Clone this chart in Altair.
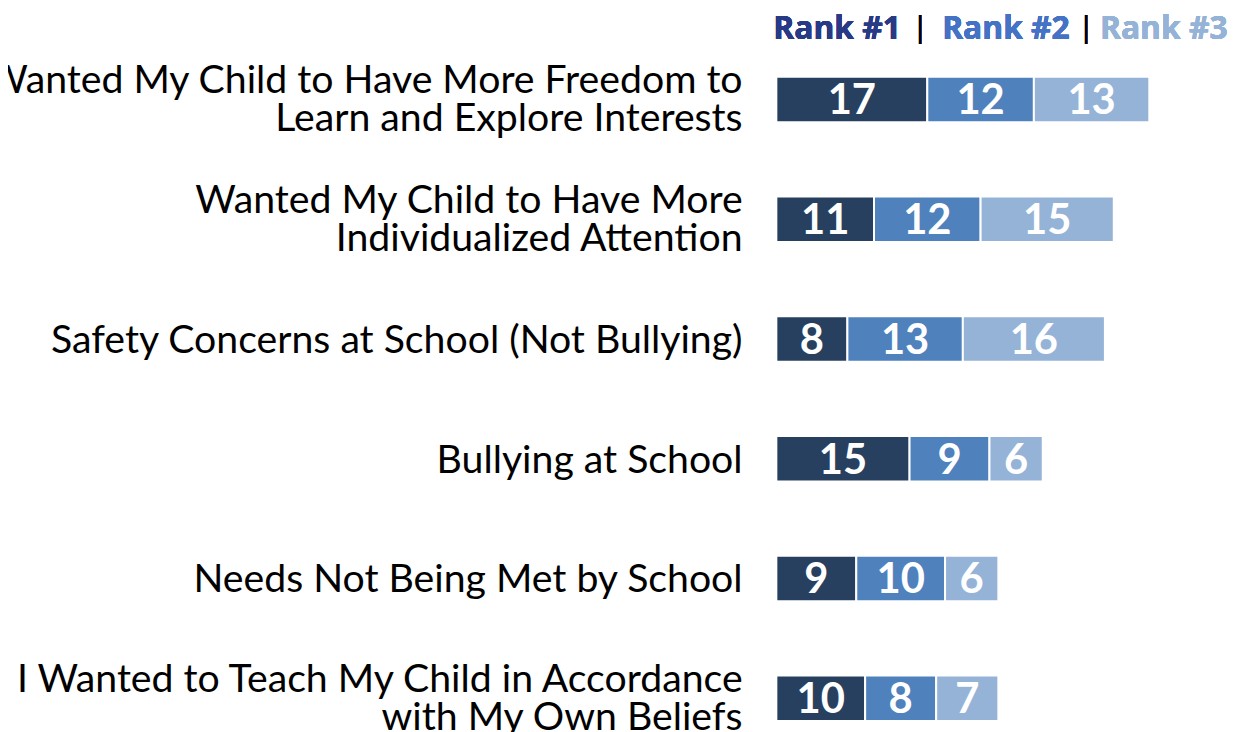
import altair as alt
import pandas as pd

categories = [
    "Wanted My Child to Have More Freedom to\nLearn and Explore Interests",
    "Wanted My Child to Have More\nIndividualized Attention",
    "Safety Concerns at School (Not Bullying)",
    "Bullying at School",
    "Needs Not Being Met by School",
    "I Wanted to Teach My Child in Accordance\nwith My Own Beliefs",
]
rank1 = [17, 11, 8, 15, 9, 10]
rank2 = [12, 12, 13, 9, 10, 8]
rank3 = [13, 15, 16, 6, 6, 7]
ranks = ["Rank #1", "Rank #2", "Rank #3"]
bar_colors = ["#27405F", "#4F81BD", "#95B3D7"]
legend_colors = ["#283A85", "#4472C4", "#95B3D7"]

rows = []
for i, c in enumerate(categories):
    for r, vals in zip(ranks, [rank1, rank2, rank3]):
        rows.append({"category": c, "rank": r, "value": vals[i]})
df = pd.DataFrame(rows)

line_rows = []
for c in categories:
    parts = c.split("\n")
    for k, p in enumerate(parts):
        line_rows.append({"category": c, "line": p, "lineno": k, "nlines": len(parts)})
lines_df = pd.DataFrame(line_rows)
cat_df = pd.DataFrame({"category": categories})

FONT = "Lato"

y_enc = alt.Y("category:N", sort=categories, axis=None,
              scale=alt.Scale(paddingInner=0.62, paddingOuter=0.31))

base = alt.Chart(df).transform_stack(
    stack="value", groupby=["category"], sort=[alt.SortField("rank")], as_=["x0", "x1"]
).transform_calculate(mid="(datum.x0 + datum.x1) / 2")

xscale = alt.Scale(domain=[0, 51.2], nice=False, zero=True)

bars = base.mark_bar(stroke="white", strokeWidth=2).encode(
    x=alt.X("x0:Q", scale=xscale, axis=None),
    x2="x1:Q",
    y=y_enc,
    color=alt.Color("rank:N", scale=alt.Scale(domain=ranks, range=bar_colors), legend=None),
)

nums = base.mark_text(font=FONT, fontWeight="bold", fontSize=42, color="white",
                      baseline="middle", align="center", dy=2).encode(
    x=alt.X("mid:Q", scale=xscale, axis=None),
    y=y_enc,
    text="value:Q",
)

label_layers = []
for cond, dy in [("datum.nlines == 1", 2), ("datum.nlines == 2 && datum.lineno == 0", -18),
                 ("datum.nlines == 2 && datum.lineno == 1", 20)]:
    label_layers.append(
        alt.Chart(lines_df).transform_filter(cond).mark_text(
            font=FONT, fontSize=39.5, color="black", align="right", baseline="middle", dy=dy
        ).encode(x=alt.value(-34), y=y_enc, text="line:N")
    )

leg_layers = []
leg_x = [-3, 167, 326]
for name, col, xv in zip(ranks, legend_colors, leg_x):
    leg_layers.append(
        alt.Chart(cat_df).mark_text(font="Open Sans", fontWeight="bold", fontSize=32, color=col,
                                    align="left", baseline="middle").encode(
            x=alt.value(xv), y=alt.value(-11), text=alt.value(name))
    )
for xv in [145, 312]:
    leg_layers.append(
        alt.Chart(cat_df).mark_text(font="Open Sans", fontWeight="normal", fontSize=30, color="black",
                                    align="center", baseline="middle").encode(
            x=alt.value(xv), y=alt.value(-12), text=alt.value("|"))
    )

chart = alt.layer(bars, nums, *label_layers, *leg_layers).properties(
    width=458, height=724,
    autosize=alt.AutoSizeParams(type="none"),
    padding={"left": 774, "top": 29, "right": 0, "bottom": 0},
).configure_view(stroke=None)

chart.save("out.html", embed_options={"renderer": "svg", "actions": False})
